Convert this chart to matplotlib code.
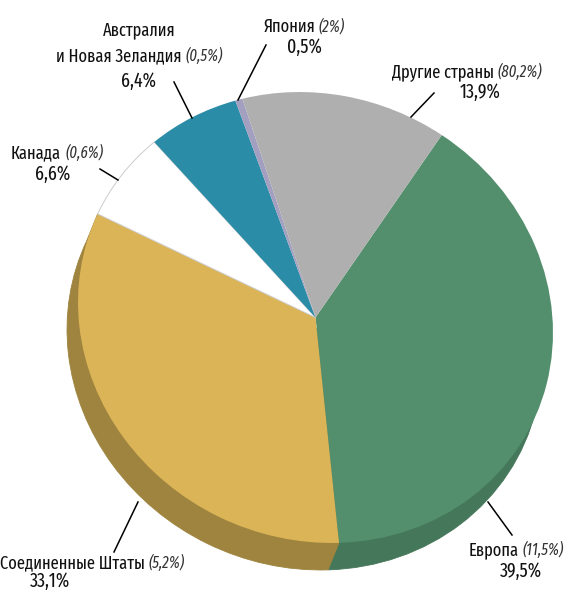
import matplotlib
matplotlib.use('Agg')
import matplotlib.pyplot as plt
import numpy as np
from matplotlib.patches import Polygon
from matplotlib.transforms import Affine2D

W, H = 566, 592

# доля в мире, по часовой стрелке от Европы
regions = ['Европа', 'Соединенные Штаты', 'Канада', 'Австралия и Новая Зеландия', 'Япония', 'Другие страны']
shares = [39.5, 33.1, 6.6, 6.4, 0.5, 13.9]
share_labels = ['39,5%', '33,1%', '6,6%', '6,4%', '0,5%', '13,9%']
paren_labels = ['(11,5%)', '(5,2%)', '(0,6%)', '(0,5%)', '(2%)', '(80,2%)']

colors = ['#538f6c', '#dbb457', '#ffffff', '#2a8ca6', '#a29fc0', '#afafaf']
side_colors = ['#45775a', '#9e843e', '#ffffff', '#ffffff', '#ffffff', '#ffffff']

FONT = ['Fira Sans Extra Condensed', 'PT Sans Narrow', 'DejaVu Sans']
FS = 12.9
FS_SHARE = 14
START = 82.2


def ellipse(cx, cy):
    # круг с наклоном: эллипс повернут на 26 градусов
    return Affine2D().scale(241.2, 221.5).rotate_deg(-26.2).translate(cx, H - cy)


def draw_pie(cols, cx, cy):
    wedges, _ = ax.pie(shares, colors=cols, startangle=START, counterclock=False, radius=1)
    tr = ellipse(cx, cy) + ax.transData
    for w in wedges:
        w.set_transform(tr)
    return wedges


def side_corner(cum, top_c, side_c, color):
    # косой стык боковой стенки у края золотого сектора
    a = np.radians(START - 3.6 * cum)
    pt = (np.cos(a), np.sin(a))
    p1 = ellipse(*top_c).transform(pt)
    p2 = ellipse(*side_c).transform(pt)
    ax.add_patch(Polygon([p1, p2, (side_c[0], H - side_c[1])], closed=True,
                         facecolor=color, edgecolor=color, lw=0.6))


def label_line(x, y, name, paren=None, fs=FS):
    # подпись из двух кусков: обычный и курсив, по центру x
    t1 = ax.text(x, H - y, name, ha='left', va='center', fontsize=fs, family=FONT, color='#111111')
    if paren is None:
        w = t1.get_window_extent(renderer).width
        t1.set_x(x - w / 2)
        return
    t2 = ax.text(x, H - y, paren, ha='left', va='center', fontsize=fs - 1.4, style='italic',
                 family=FONT, color='#333333')
    w1 = t1.get_window_extent(renderer).width
    w2 = t2.get_window_extent(renderer).width
    left = x - (w1 + 4 + w2) / 2
    t1.set_x(left)
    t2.set_x(left + w1 + 4)


fig = plt.figure(figsize=(W / 100, H / 100), dpi=100)
renderer = fig.canvas.get_renderer()
ax = fig.add_axes([0, 0, 1, 1])

# боковая стенка и сам круг
top_c = (315.5, 317.5)
side_c = (304.5, 344.5)
side_wedges = draw_pie(side_colors, *side_c)
for w, c in zip(side_wedges, side_colors):
    w.set_edgecolor(c)
    w.set_linewidth(0.6)
side_corner(shares[0], top_c, side_c, side_colors[1])
side_corner(shares[0] + shares[1], top_c, side_c, side_colors[1])
wedges = draw_pie(colors, *top_c)
wedges[2].set_edgecolor('#cccccc')
wedges[2].set_linewidth(0.7)

ax.set_aspect('auto')
ax.set_xlim(0, W)
ax.set_ylim(0, H)
ax.axis('off')

# линии-выноски
leaders = [((488, 502), (512, 535)), ((138, 502), (114, 552)), ((100, 169), (118, 180)),
           ((174, 82), (192, 118)), ((266, 45), (238, 100)), ((434, 93), (411, 117))]
for a, b in leaders:
    ax.plot([a[0], b[0]], [H - a[1], H - b[1]], color='black', lw=1.1)

label_line(516, 550, regions[0], paren_labels[0])
label_line(521, 571, share_labels[0], fs=FS_SHARE)
label_line(92, 563, regions[1], paren_labels[1])
label_line(50, 581, share_labels[1], fs=FS_SHARE)
label_line(57, 153, regions[2], paren_labels[2])
label_line(53, 174, share_labels[2], fs=FS_SHARE)
label_line(139, 30, 'Австралия')
label_line(139, 56, 'и Новая Зеландия', paren_labels[3])
label_line(139, 81, share_labels[3], fs=FS_SHARE)
label_line(304, 27, regions[4], paren_labels[4])
label_line(304, 47, share_labels[4], fs=FS_SHARE)
label_line(467, 72, regions[5], paren_labels[5])
label_line(480, 92, share_labels[5], fs=FS_SHARE)

fig.savefig('out.png', dpi=100)
